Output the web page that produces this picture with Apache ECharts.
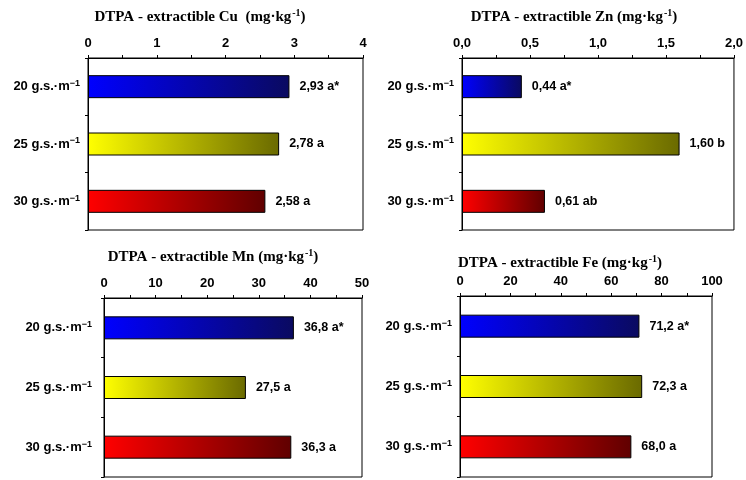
<!DOCTYPE html>
<html><head><meta charset="utf-8">
<script src="https://cdn.jsdelivr.net/npm/echarts@6/dist/echarts.min.js"></script>
<style>html,body{margin:0;padding:0;background:#fff}#c{width:746px;height:480px}</style>
</head><body><div id="c"></div>
<script>
const categories = ['20 g.s.·m', '25 g.s.·m', '30 g.s.·m'];
const cuValues = [2.93, 2.78, 2.58];
const cuLetters = ['a*', 'a', 'a'];
const znValues = [0.44, 1.60, 0.61];
const znLetters = ['a*', 'b', 'ab'];
const mnValues = [36.8, 27.5, 36.3];
const mnLetters = ['a*', 'a', 'a'];
const feValues = [71.2, 72.3, 68.0];
const feLetters = ['a*', 'a', 'a'];
const panelTitles = ['DTPA - extractible Cu  (mg·kg', 'DTPA - extractible Zn (mg·kg', 'DTPA - extractible Mn (mg·kg', 'DTPA - extractible Fe (mg·kg'];
const axisMax = [4, 2, 50, 100];
const axisStep = [1, 0.5, 10, 20];
const axisDecimals = [0, 1, 0, 0];
const valueDecimals = [2, 2, 1, 1];

const panels = [
  {vals: cuValues, lets: cuLetters, grid: {left: 88, top: 58, width: 275, height: 172}, labelMargin: 8, title: {x: 195, y: 3}},
  {vals: znValues, lets: znLetters, grid: {left: 462, top: 58, width: 272, height: 172}, labelMargin: 8, title: {x: 569, y: 3}},
  {vals: mnValues, lets: mnLetters, grid: {left: 104, top: 298, width: 258, height: 179}, labelMargin: 12, title: {x: 208, y: 243}},
  {vals: feValues, lets: feLetters, grid: {left: 460, top: 296, width: 252, height: 181}, labelMargin: 8, title: {x: 555, y: 249}}
];

const gradients = [
  ['#0000ff', '#0a0a60'],
  ['#ffff00', '#6a6a00'],
  ['#ff0000', '#600000']
];

function fmt(v, d) { return v.toFixed(d).replace('.', ','); }

const sansBold = {fontFamily: 'Liberation Sans, Arial, sans-serif', fontWeight: 'bold', color: '#000'};

const option = {
  backgroundColor: '#fff',
  animation: false,
  title: panels.map((p, i) => ({
    text: '{m|' + panelTitles[i] + '}{s|-1}{m|)}',
    left: p.title.x,
    top: p.title.y,
    textAlign: 'center',
    textStyle: {
      rich: {
        m: {fontFamily: 'Liberation Serif, Times New Roman, serif', fontWeight: 'bold', fontSize: 15, color: '#000', lineHeight: 19},
        s: {fontFamily: 'Liberation Serif, Times New Roman, serif', fontWeight: 'bold', fontSize: 10, color: '#000', verticalAlign: 'top', lineHeight: 19, padding: [0, 0, 0, 1]}
      }
    }
  })),
  grid: panels.map(p => Object.assign({show: true, borderColor: '#000', borderWidth: 1, backgroundColor: 'transparent', containLabel: false}, p.grid)),
  xAxis: panels.map((p, i) => ({
    gridIndex: i,
    type: 'value',
    position: 'top',
    min: 0,
    max: axisMax[i],
    interval: axisStep[i],
    axisLine: {show: true, lineStyle: {color: '#000', width: 1}},
    axisTick: {show: true, inside: false, length: 3, lineStyle: {color: '#000'}},
    minorTick: {show: true, splitNumber: 2, length: 3, lineStyle: {color: '#000'}},
    splitLine: {show: false},
    axisLabel: Object.assign({fontSize: 13, margin: 8, formatter: v => fmt(v, axisDecimals[i])}, sansBold)
  })),
  yAxis: panels.map((p, i) => ({
    gridIndex: i,
    type: 'category',
    inverse: true,
    data: categories,
    axisLine: {show: true, lineStyle: {color: '#000', width: 1}},
    axisTick: {show: true, inside: false, length: 3, lineStyle: {color: '#000'}},
    splitLine: {show: false},
    axisLabel: Object.assign({
      fontSize: 13, margin: p.labelMargin,
      formatter: v => '{n|' + v + '}{s|\u22121}',
      rich: {
        n: Object.assign({fontSize: 13, lineHeight: 15}, sansBold),
        s: Object.assign({fontSize: 9, verticalAlign: 'top', lineHeight: 15}, sansBold)
      }
    }, sansBold)
  })),
  series: panels.map((p, i) => ({
    type: 'bar',
    xAxisIndex: i,
    yAxisIndex: i,
    barWidth: 23,
    data: p.vals.map((v, j) => ({
      value: v,
      itemStyle: {
        color: new echarts.graphic.LinearGradient(0, 0, 1, 0, [
          {offset: 0, color: gradients[j][0]},
          {offset: 1, color: gradients[j][1]}
        ]),
        borderColor: '#000',
        borderWidth: 1
      }
    })),
    label: Object.assign({
      show: true,
      position: 'right',
      distance: 10,
      fontSize: 12.5,
      formatter: prm => fmt(prm.value, valueDecimals[i]) + ' ' + p.lets[prm.dataIndex]
    }, sansBold)
  }))
};

echarts.init(document.getElementById('c'), null, {renderer: 'canvas'}).setOption(option);
</script>
</body></html>
